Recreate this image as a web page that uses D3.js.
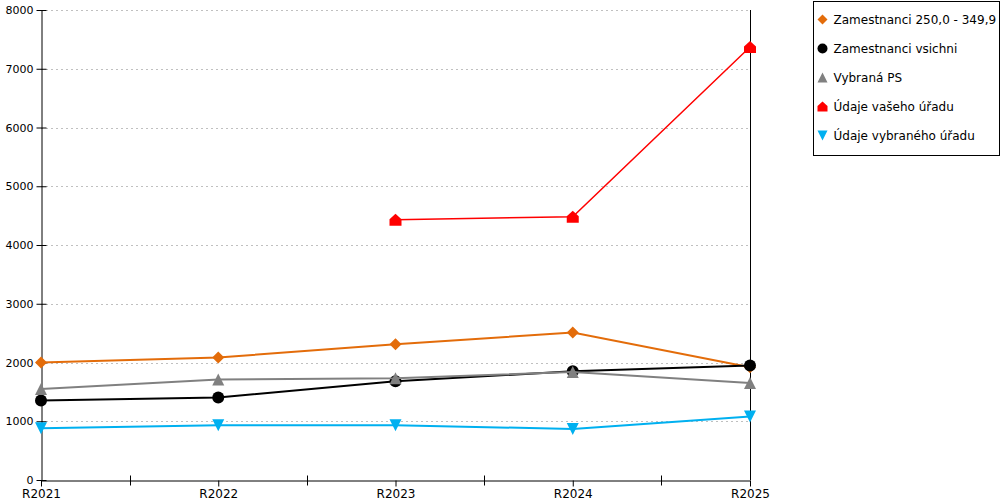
<!DOCTYPE html>
<html>
<head>
<meta charset="utf-8">
<script src="https://cdnjs.cloudflare.com/ajax/libs/d3/7.8.5/d3.min.js"></script>
<style>
  body { margin: 0; background: #fff; }
  svg { font-family: "DejaVu Sans", Verdana, sans-serif; }
</style>
</head>
<body>
<svg width="1000" height="500"></svg>
<script>
// categories on x axis
var years = ["R2021", "R2022", "R2023", "R2024", "R2025"];

// series values (null = no data)
var zam250 = [2000, 2085, 2310, 2510, 1920];
var zamVsichni = [1355, 1405, 1680, 1850, 1950];
var vybranaPS = [1550, 1710, 1730, 1840, 1650];
var vasUrad = [null, null, 4430, 4480, 7370];
var vybranyUrad = [880, 930, 930, 870, 1080];

var seriesNames = ["Zamestnanci 250,0 - 349,9", "Zamestnanci vsichni", "Vybraná PS", "Údaje vašeho úřadu", "Údaje vybraného úřadu"];
var yTicks = [0, 1000, 2000, 3000, 4000, 5000, 6000, 7000, 8000];

var series = [
  { name: seriesNames[0], values: zam250, color: "#e36c0a", width: 2, symbol: "diamond" },
  { name: seriesNames[1], values: zamVsichni, color: "#000000", width: 2, symbol: "circle" },
  { name: seriesNames[2], values: vybranaPS, color: "#808080", width: 2, symbol: "triangle" },
  { name: seriesNames[3], values: vasUrad, color: "#ff0000", width: 1.5, symbol: "house" },
  { name: seriesNames[4], values: vybranyUrad, color: "#00b0f0", width: 2, symbol: "triangleDown" }
];

// plot area
var margin = { top: 10, left: 41, right: 250, bottom: 20 };
var width = 750 - margin.left;
var height = 480 - margin.top;

var svg = d3.select("svg");
var graph = svg.append("g")
    .attr("transform", "translate(" + margin.left + "," + margin.top + ")");

var xscale = d3.scalePoint().domain(years).range([0, width]);
var yscale = d3.scaleLinear().domain([0, 8000]).range([height, 0]);

// grid lines
graph.append("g")
  .selectAll("line")
  .data(yTicks.filter(function(d) { return d > 0; }))
  .enter().append("line")
    .attr("x1", 0)
    .attr("x2", width)
    .attr("y1", function(d) { return Math.round(yscale(d)) + 0.5; })
    .attr("y2", function(d) { return Math.round(yscale(d)) + 0.5; })
    .attr("stroke", "#c0c0c0")
    .attr("stroke-dasharray", "2,3");

// right border
graph.append("line")
  .attr("x1", width + 0.5).attr("x2", width + 0.5)
  .attr("y1", 0).attr("y2", height)
  .attr("stroke", "#000");

// y axis
var yaxis = d3.axisLeft(yscale).tickValues(yTicks).tickFormat(d3.format("d"))
  .tickSize(5).tickSizeOuter(0).tickPadding(3);
var yg = graph.append("g").attr("transform", "translate(0.5,0)").call(yaxis);
yg.selectAll(".tick line").attr("x1", -5).attr("x2", 5);
yg.selectAll("text").attr("font-size", 11).attr("fill", "#000").attr("font-family", "DejaVu Sans");
yg.select(".domain").attr("stroke", "#000");

// x axis
var xaxis = d3.axisBottom(xscale).tickSize(6).tickSizeOuter(0).tickPadding(3);
var xg = graph.append("g").attr("transform", "translate(0," + (height + 0.5) + ")").call(xaxis);
xg.selectAll("text").attr("font-size", 12).attr("fill", "#000").attr("font-family", "DejaVu Sans");

// minor ticks between categories
var step = xscale.step();
xg.append("g")
  .selectAll("line")
  .data(years.slice(1))
  .enter().append("line")
    .attr("x1", function(d) { return Math.round(xscale(d) - step / 2) + 0.5; })
    .attr("x2", function(d) { return Math.round(xscale(d) - step / 2) + 0.5; })
    .attr("y1", -5).attr("y2", 5)
    .attr("stroke", "#000");

// symbols
function symbolPath(sym, s) {
  if (sym === "diamond") return "M0," + (-s) + "L" + s + ",0L0," + s + "L" + (-s) + ",0Z";
  if (sym === "circle") return d3.symbol(d3.symbolCircle, Math.PI * s * s)();
  if (sym === "triangle") return "M0," + (-s) + "L" + s + "," + s + "L" + (-s) + "," + s + "Z";
  if (sym === "triangleDown") return "M" + (-s) + "," + (-s) + "L" + s + "," + (-s) + "L0," + s + "Z";
  if (sym === "house") return "M0," + (-s) + "L" + s + "," + (-s * 0.1) + "L" + s + "," + s + "L" + (-s) + "," + s + "L" + (-s) + "," + (-s * 0.1) + "Z";
}

var line = d3.line()
  .defined(function(d) { return d.v !== null; })
  .x(function(d) { return xscale(d.year); })
  .y(function(d) { return yscale(d.v); });

series.forEach(function(s) {
  var pts = years.map(function(y, i) { return { year: y, v: s.values[i] }; });
  graph.append("path")
    .datum(pts)
    .attr("d", line)
    .attr("fill", "none")
    .attr("stroke", s.color)
    .attr("stroke-width", s.width);
  graph.append("g")
    .selectAll("path")
    .data(pts.filter(function(d) { return d.v !== null; }))
    .enter().append("path")
      .attr("transform", function(d) { return "translate(" + xscale(d.year) + "," + yscale(d.v) + ")"; })
      .attr("d", symbolPath(s.symbol, 6))
      .attr("fill", s.color);
});

// legend
var legend = svg.append("g").attr("transform", "translate(813.5,1.5)");
legend.append("rect")
  .attr("width", 186).attr("height", 154)
  .attr("fill", "#fff").attr("stroke", "#000");
var items = legend.selectAll("g.item")
  .data(series)
  .enter().append("g")
    .attr("class", "item")
    .attr("transform", function(d, i) { return "translate(9," + (18 + i * 29) + ")"; });
items.append("path")
  .attr("d", function(d) { return symbolPath(d.symbol, 5); })
  .attr("fill", function(d) { return d.color; });
items.append("text")
  .attr("x", 11)
  .attr("dy", "0.35em")
  .attr("font-size", 12)
  .text(function(d) { return d.name; });
</script>
</body>
</html>
